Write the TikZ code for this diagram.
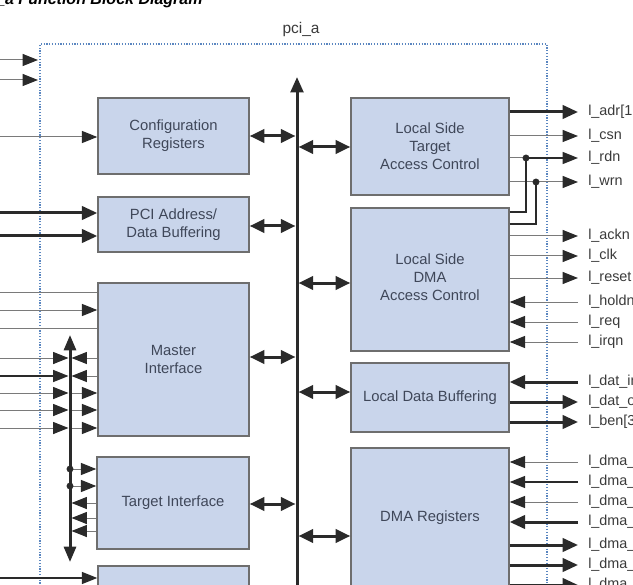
\documentclass[tikz,border=0pt]{standalone}
\usepackage{fontspec}
\setmainfont{Liberation Sans}
\usetikzlibrary{arrows.meta}
\definecolor{boxfill}{HTML}{C9D5EB}
\definecolor{boxline}{HTML}{6E6E6E}
\definecolor{txt}{HTML}{3F4759}
\definecolor{pin}{HTML}{3A3A3A}
\definecolor{bnd}{HTML}{5A86C0}
\definecolor{ink}{HTML}{2A2A2A}
\definecolor{wire}{HTML}{7A7A7A}
\begin{document}
\begin{tikzpicture}[x=0.75pt,y=-0.75pt,
  blk/.style={draw=boxline,line width=1.1pt,fill=boxfill,text=txt,
    font=\fontsize{11.1}{13.5}\selectfont,align=center,inner sep=0pt},
  pinlbl/.style={anchor=west,inner xsep=7.5pt,inner ysep=0pt,text=pin,
    text height=8pt,text depth=2.2pt,font=\fontsize{10.8}{12}\selectfont},
  thinw/.style={draw=wire,line width=0.75pt},
  medw/.style={draw=ink,line width=0.95pt},
  thickw/.style={draw=ink,line width=2.25pt},
  tip/.style={-{Triangle[length=11.5pt,width=9pt,color=ink]}},
  ttip/.style={-{Triangle[length=11.5pt,width=10pt]}},
  biarr/.style={thickw,{Triangle[length=11pt,width=10pt]}-{Triangle[length=11pt,width=10pt]}},
  jdot/.style={fill=ink}
]
\useasboundingbox (0,0) rectangle (633,585);

% title and frame
\node[anchor=base west,inner sep=0pt,font=\fontsize{12}{14}\selectfont\bfseries\itshape,text=black] (title) at (-4,4.5) {\_a Function Block Diagram};
\node[font=\fontsize{11.6}{14}\selectfont,text=pin] (pcia) at (301,30) {pci\_a};
\draw[bnd,line width=0.8pt,dash pattern=on 0.9pt off 1.2pt] (40,620) -- (40,44) -- (547,44) -- (547,620);

% blocks
\node[blk,minimum width=113.25pt,minimum height=57pt] (cfg) at (173.5,136) {Configuration\\Registers};
\node[blk,minimum width=113.25pt,minimum height=41.25pt] (pci) at (173.5,224.5) {PCI Address/\\Data Buffering};
\node[blk,minimum width=113.25pt,minimum height=114.75pt] (mst) at (173.5,359.5) {Master\\Interface};
\node[blk,minimum width=114pt,minimum height=69pt] (tgt) at (173,503) {Target Interface};
\node[blk,minimum width=113.25pt,minimum height=51pt] (bot) at (173.5,600) {};
\node[blk,minimum width=118.5pt,minimum height=72.75pt] (lstac) at (430,146.5) {Local Side\\Target\\Access Control};
\node[blk,minimum width=118.5pt,minimum height=107.25pt] (lsdma) at (430,279.5) {};
\node[text=txt,font=\fontsize{11.1}{13.5}\selectfont,align=center,inner sep=0pt] (lsdmat) at (430,277) {Local Side\\DMA\\Access Control};
\node[blk,minimum width=118.5pt,minimum height=51.75pt] (ldb) at (430,397.5) {Local Data Buffering};
\node[blk,minimum width=118.5pt,minimum height=105pt] (dmar) at (430,518) {DMA Registers};

% central bus
\coordinate (busT) at (297,77);
\coordinate (busB) at (297,600);
\coordinate (busL) at (295.5,0);
\coordinate (busR) at (298.5,0);
\draw[thickw,-{Triangle[length=11.5pt,width=9.5pt]}] (busB) -- (busT);
\draw[biarr] (cfg.east |- 0,136) -- (busL |- 0,136);
\draw[biarr] (pci.east |- 0,226) -- (busL |- 0,226);
\draw[biarr] (mst.east |- 0,357) -- (busL |- 0,357);
\draw[biarr] (tgt.east |- 0,504) -- (busL |- 0,504);
\draw[biarr] (busR |- 0,147) -- (lstac.west |- 0,147);
\draw[biarr] (busR |- 0,283) -- (lsdma.west |- 0,283);
\draw[biarr] (busR |- 0,392) -- (ldb.west |- 0,392);
\draw[biarr] (busR |- 0,536) -- (dmar.west |- 0,536);

% top-left inputs
\draw[thinw,tip] (0,60) coordinate (a1) -- (38,60) coordinate (a1e);
\draw[thinw,tip] (0,80) coordinate (a2) -- (38,80) coordinate (a2e);
\draw[thinw,tip] (0,137) coordinate (c1) -- (c1 -| cfg.west);
\draw[thickw,ttip] (0,213) coordinate (p1) -- (p1 -| pci.west);
\draw[thickw,ttip] (0,236) coordinate (p2) -- (p2 -| pci.west);

% master interface rows
\coordinate (lb) at (70,0);
\coordinate (lbL) at (68.5,0);
\coordinate (lbR) at (71.5,0);
\coordinate (lbT) at (70,335);
\coordinate (lbB) at (70,562);
\draw[thinw] (0,292) coordinate (m1) -- (m1 -| mst.west);
\draw[thinw,tip] (0,310) coordinate (m2) -- (m2 -| mst.west);
\draw[thinw] (0,328) coordinate (m3) -- (m3 -| mst.west);
\draw[thinw,tip] (0,358) coordinate (m4) -- (lbL |- m4);
\draw[thinw,tip] (m4 -| mst.west) -- (lbR |- m4);
\draw[medw,tip] (0,376) coordinate (m5) -- (lbL |- m5);
\draw[thinw,tip] (m5 -| mst.west) -- (lbR |- m5);
\draw[thinw,tip] (0,393) coordinate (m6) -- (lbL |- m6);
\draw[thinw,tip] (lb |- m6) -- (m6 -| mst.west);
\draw[thinw,tip] (0,410) coordinate (m7) -- (lbL |- m7);
\draw[thinw,tip] (lb |- m7) -- (m7 -| mst.west);
\draw[thinw,tip] (0,428) coordinate (m8) -- (lbL |- m8);
\draw[thinw,tip] (lb |- m8) -- (m8 -| mst.west);

% target interface rows
\coordinate (t1) at (70,469);
\coordinate (t2) at (70,486);
\draw[thinw,tip] (t1) -- (t1 -| tgt.west);
\draw[thinw,tip] (t2) -- (t2 -| tgt.west);
\fill[jdot] (t1) circle (2.6pt);
\fill[jdot] (t2) circle (2.6pt);
\draw[thinw,tip] (tgt.west |- 0,503) -- (lbR |- 0,503);
\draw[thinw,tip] (tgt.west |- 0,518) -- (lbR |- 0,518);
\draw[thinw,tip] (tgt.west |- 0,531) -- (lbR |- 0,531);

% left bus
\draw[thickw,{Triangle[length=11.5pt,width=9pt]}-{Triangle[length=11.5pt,width=9pt]}] (lbT) -- (lbB);

% bottom block input
\draw[medw,tip] (0,578) coordinate (b1) -- (b1 -| bot.west);

% right side pins: target access control
\node[pinlbl] (ladr) at (578,112) {l\_adr[1};
\node[pinlbl] (lcsn) at (578,136) {l\_csn};
\node[pinlbl] (lrdn) at (578,158) {l\_rdn};
\node[pinlbl] (lwrn) at (578,182) {l\_wrn};
\draw[thickw,ttip] (lstac.east |- ladr) -- (ladr.west);
\draw[thinw,tip] (lstac.east |- lcsn) -- (lcsn.west);
\coordinate (j1) at (526,158);
\coordinate (j2) at (536,182);
\draw[thinw] (lstac.east |- lrdn) -- (j1);
\draw[medw,tip] (j1) -- (lrdn.west);
\draw[thinw,tip] (lstac.east |- lwrn) -- (lwrn.west);
\draw[medw] (lsdma.east |- 0,212) -| (j1);
\draw[medw] (lsdma.east |- 0,224) -| (j2);
\fill[jdot] (j1) circle (2.6pt);
\fill[jdot] (j2) circle (2.6pt);

% DMA access control
\node[pinlbl] (lackn) at (578,236) {l\_ackn};
\node[pinlbl] (lclk) at (578,256) {l\_clk};
\node[pinlbl] (lreset) at (578,278) {l\_reset};
\node[pinlbl] (lholdn) at (578,302) {l\_holdn};
\node[pinlbl] (lreq) at (578,322) {l\_req};
\node[pinlbl] (lirqn) at (578,342) {l\_irqn};
\draw[thinw,tip] (lsdma.east |- lackn) -- (lackn.west);
\draw[thinw,tip] (lsdma.east |- lclk) -- (lclk.west);
\draw[thinw,tip] (lsdma.east |- lreset) -- (lreset.west);
\draw[thinw,tip] (lholdn.west) -- (lsdma.east |- lholdn);
\draw[thinw,tip] (lreq.west) -- (lsdma.east |- lreq);
\draw[thinw,tip] (lirqn.west) -- (lsdma.east |- lirqn);

% local data buffering
\node[pinlbl] (ldatin) at (578,382) {l\_dat\_in};
\node[pinlbl] (ldato) at (578,402) {l\_dat\_o};
\node[pinlbl] (lben) at (578,422) {l\_ben[3};
\draw[thickw,ttip] (ldatin.west) -- (ldb.east |- ldatin);
\draw[thickw,ttip] (ldb.east |- ldato) -- (ldato.west);
\draw[thickw,ttip] (ldb.east |- lben) -- (lben.west);

% DMA registers
\node[pinlbl] (ld1) at (578,462) {l\_dma\_};
\node[pinlbl] (ld2) at (578,482) {l\_dma\_};
\node[pinlbl] (ld3) at (578,502) {l\_dma\_};
\node[pinlbl] (ld4) at (578,522) {l\_dma\_};
\node[pinlbl] (ld5) at (578,545) {l\_dma\_};
\node[pinlbl] (ld6) at (578,565) {l\_dma\_};
\node[pinlbl] (ld7) at (578,585) {l\_dma\_};
\draw[thinw,tip] (ld1.west) -- (dmar.east |- ld1);
\draw[medw,tip] (ld2.west) -- (dmar.east |- ld2);
\draw[thinw,tip] (ld3.west) -- (dmar.east |- ld3);
\draw[thickw,ttip] (ld4.west) -- (dmar.east |- ld4);
\draw[thickw,ttip] (dmar.east |- ld5) -- (ld5.west);
\draw[thickw,ttip] (dmar.east |- ld6) -- (ld6.west);
\draw[thickw,ttip] (dmar.east |- ld7) -- (ld7.west);
\end{tikzpicture}
\end{document}
